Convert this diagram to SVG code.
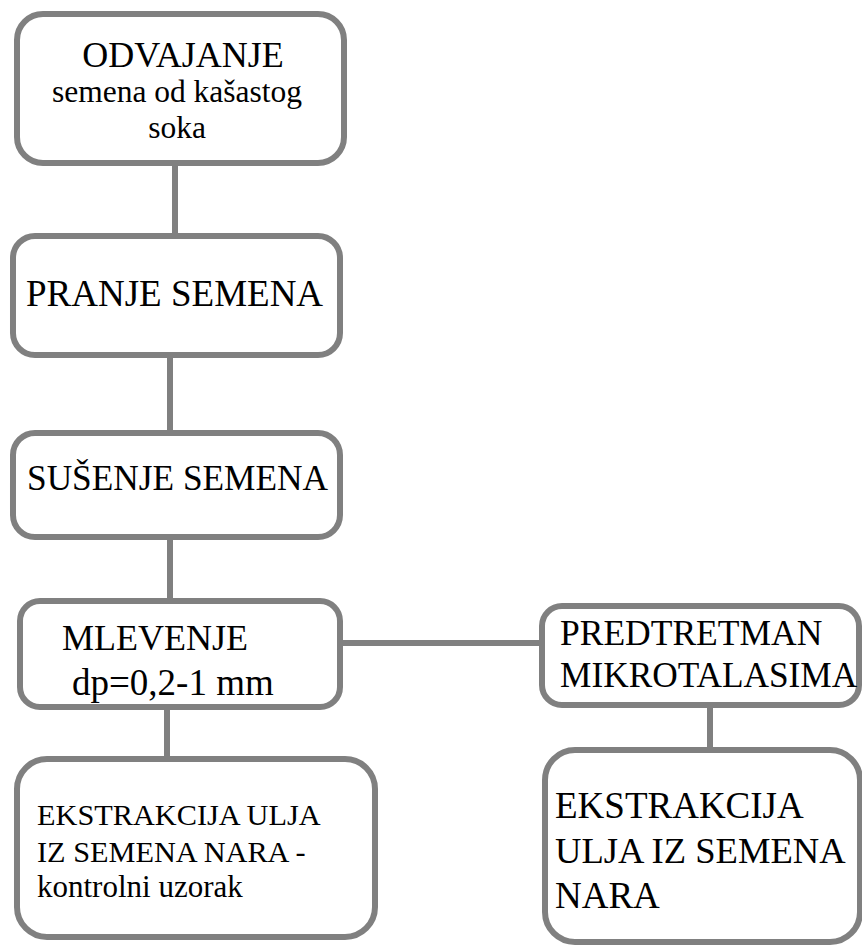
<svg xmlns="http://www.w3.org/2000/svg" width="862" height="945" viewBox="0 0 862 945">
<style>
.box{fill:#fff;stroke:#808080;stroke-width:6}
.ln{stroke:#808080;stroke-width:6;fill:none}
.t{font-family:'Liberation Serif','Times New Roman',serif;fill:#000}
</style>
<rect width="862" height="945" fill="#fff"/>
<g id="connectors">
<line class="ln" x1="175" y1="164" x2="175" y2="235"/>
<line class="ln" x1="170" y1="356" x2="170" y2="432"/>
<line class="ln" x1="170" y1="538" x2="170" y2="600"/>
<line class="ln" x1="167" y1="706" x2="167" y2="758"/>
<line class="ln" x1="341" y1="643" x2="541" y2="643"/>
<line class="ln" x1="710" y1="705" x2="710" y2="749"/>
</g>
<g id="n1">
<rect class="box" x="17" y="14" width="327" height="149" rx="26"/>
<text class="t" x="183" y="67" font-size="36" text-anchor="middle">ODVAJANJE</text>
<text class="t" x="177" y="102" font-size="31.5" text-anchor="middle">semena od kašastog</text>
<text class="t" x="177" y="138" font-size="31.5" text-anchor="middle">soka</text>
</g>
<g id="n2">
<rect class="box" x="13" y="236" width="327" height="119" rx="22"/>
<text class="t" x="26" y="306" font-size="37">PRANJE SEMENA</text>
</g>
<g id="n3">
<rect class="box" x="13" y="433" width="327" height="104" rx="22"/>
<text class="t" x="27" y="490" font-size="35.3">SUŠENJE SEMENA</text>
</g>
<g id="n4">
<rect class="box" x="20" y="601" width="320" height="106" rx="20"/>
<text class="t" x="62" y="650" font-size="36">MLEVENJE</text>
<text class="t" x="72" y="695" font-size="37">dp=0,2-1 mm</text>
</g>
<g id="n5">
<rect class="box" x="542" y="606" width="317" height="99" rx="20"/>
<text class="t" x="560" y="645" font-size="35.5">PREDTRETMAN</text>
<text class="t" x="560" y="687" font-size="35.3">MIKROTALASIMA</text>
</g>
<g id="n6">
<rect class="box" x="545" y="750" width="315" height="192" rx="30"/>
<text class="t" x="555" y="818" font-size="37">EKSTRAKCIJA</text>
<text class="t" x="555" y="863" font-size="36.6">ULJA IZ SEMENA</text>
<text class="t" x="555" y="908" font-size="37">NARA</text>
</g>
<g id="n7">
<rect class="box" x="17" y="759" width="358" height="178" rx="30"/>
<text class="t" x="37" y="825" font-size="30.3">EKSTRAKCIJA ULJA</text>
<text class="t" x="37" y="862" font-size="30.3">IZ SEMENA NARA -</text>
<text class="t" x="37" y="897" font-size="31">kontrolni uzorak</text>
</g>
</svg>
